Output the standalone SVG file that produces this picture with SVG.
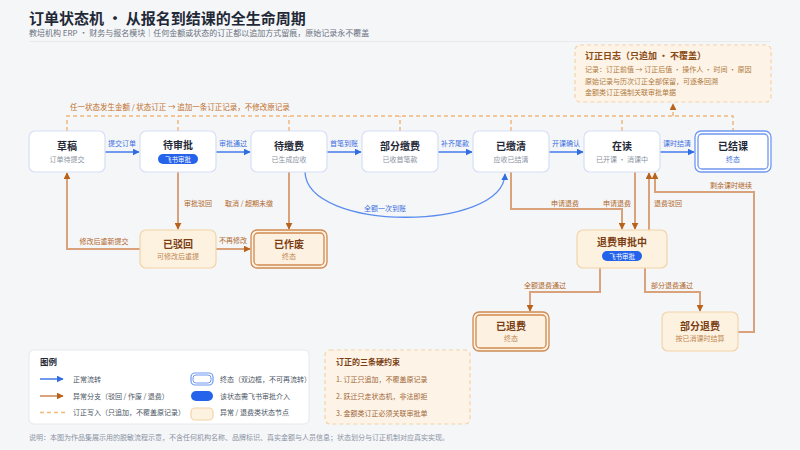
<svg xmlns="http://www.w3.org/2000/svg" width="800" height="450" viewBox="0 0 800 450">
<defs>
<style>
text{font-family:"Noto Sans CJK SC","Noto Sans",sans-serif}
.node{fill:#ffffff;stroke:#d5e0f6;stroke-width:1.2}
.warn{fill:#fdf1e0;stroke:#f2d4a8;stroke-width:1.2}
.endb{fill:none;stroke:#6f98f0;stroke-width:1.3}
.endo{fill:none;stroke:#d08a52;stroke-width:1.3}
.t{font-size:10px;font-weight:700;fill:#1f2937;text-anchor:middle}
.tw{font-size:10px;font-weight:700;fill:#7a3e12;text-anchor:middle}
.s{font-size:7px;fill:#8a93a3;text-anchor:middle}
.sw{font-size:7px;fill:#c08850;text-anchor:middle}
.sb{font-size:7px;fill:#3a6fe0;text-anchor:middle}
.badge{fill:#2563eb}
.bt{font-size:6.5px;fill:#ffffff;text-anchor:middle}
.blue{fill:none;stroke:#6f9af0;stroke-width:2}
.brown{fill:none;stroke:#d9a27a;stroke-width:2}
.dash{fill:none;stroke:#f0b87a;stroke-width:1.5;stroke-dasharray:4 3}
.lb{font-size:7px;fill:#3a6fe0}
.lo{font-size:7px;fill:#b0672a}
.leg{font-size:7px;fill:#4b5563}
</style>
<marker id="ab" viewBox="0 0 10 10" refX="9" refY="5" markerWidth="7" markerHeight="7" markerUnits="userSpaceOnUse" orient="auto"><path d="M0,0 L10,5 L0,10 z" fill="#2f6de0"/></marker>
<marker id="ao" viewBox="0 0 10 10" refX="9" refY="5" markerWidth="7" markerHeight="7" markerUnits="userSpaceOnUse" orient="auto"><path d="M0,0 L10,5 L0,10 z" fill="#b8621b"/></marker>
</defs>
<rect width="800" height="450" fill="#f5f6f8"/>
<g id="header">
<text x="29" y="24" font-size="15" font-weight="700" fill="#1f2937">订单状态机 · 从报名到结课的全生命周期</text>
<text x="29" y="36" font-size="8" fill="#6b7280">教培机构 ERP · 财务与报名模块｜任何金额或状态的订正都以追加方式留痕，原始记录永不覆盖</text>
<line x1="29" y1="41.5" x2="771" y2="41.5" stroke="#e8eaee" stroke-width="1"/>
</g>
<g id="log">
<rect x="575" y="45" width="196" height="57" rx="5" fill="#fdf3e6" stroke="#f3d3a8" stroke-width="1.2" stroke-dasharray="4 3"/>
<text x="585" y="59" font-size="9" font-weight="700" fill="#8a4a14">订正日志（只追加 · 不覆盖）</text>
<text x="585" y="72" font-size="7" fill="#b07a40">记录：订正前值 → 订正后值 · 操作人 · 时间 · 原因</text>
<text x="585" y="83.5" font-size="7" fill="#b07a40">原始记录与历次订正全部保留，可逐条回溯</text>
<text x="585" y="95" font-size="7" fill="#b07a40">金额类订正强制关联审批单据</text>
</g>
<g id="connectors">
<path class="dash" d="M67,131 V116 H733 V131"/>
<path class="dash" d="M178,131 V116 M289,131 V116 M400,131 V116 M511,131 V116 M622,131 V116"/>
<path class="dash" d="M673,116 V104" stroke-dasharray="3 2" marker-end="url(#ao)"/>
<text x="70" y="110" font-size="7.5" fill="#c0702a">任一状态发生金额 / 状态订正 → 追加一条订正记录，不修改原记录</text>
<path class="blue" d="M105,152 H139" marker-end="url(#ab)"/>
<path class="blue" d="M216,152 H250" marker-end="url(#ab)"/>
<path class="blue" d="M327,152 H361" marker-end="url(#ab)"/>
<path class="blue" d="M438,152 H472" marker-end="url(#ab)"/>
<path class="blue" d="M549,152 H583" marker-end="url(#ab)"/>
<path class="blue" d="M660,152 H694" marker-end="url(#ab)"/>
<text class="lb" x="122" y="146" text-anchor="middle">提交订单</text>
<text class="lb" x="233" y="146" text-anchor="middle">审批通过</text>
<text class="lb" x="344" y="146" text-anchor="middle">首笔到账</text>
<text class="lb" x="455" y="146" text-anchor="middle">补齐尾款</text>
<text class="lb" x="566" y="146" text-anchor="middle">开课确认</text>
<text class="lb" x="677" y="146" text-anchor="middle">课时结清</text>
<path d="M305,172 C307,232 503,232 505,174" fill="none" stroke="#5b8def" stroke-width="1.3" marker-end="url(#ab)"/>
<text class="lb" x="385" y="211" text-anchor="middle">全额一次到账</text>
<path class="brown" d="M178,172 V229" marker-end="url(#ao)"/>
<text class="lo" x="184" y="206">审批驳回</text>
<path class="brown" d="M289,172 V229" marker-end="url(#ao)"/>
<text class="lo" x="273" y="206" text-anchor="end">取消 / 超期未缴</text>
<path class="brown" d="M216,249 H250" marker-end="url(#ao)"/>
<text class="lo" x="233" y="243" text-anchor="middle">不再修改</text>
<path class="brown" d="M140,249 H67 V173" marker-end="url(#ao)"/>
<text class="lo" x="104" y="244" text-anchor="middle">修改后重新提交</text>
<path class="brown" d="M511,172 V209 H622 V229" marker-end="url(#ao)"/>
<text class="lo" x="565" y="206" text-anchor="middle">申请退费</text>
<path class="brown" d="M635,172 V229" marker-end="url(#ao)"/>
<text class="lo" x="617" y="206" text-anchor="middle">申请退费</text>
<path class="brown" d="M649,230 V173" marker-end="url(#ao)"/>
<text class="lo" x="654" y="206">退费驳回</text>
<path class="brown" d="M738,332 H754 V192 H655 V173" marker-end="url(#ao)"/>
<text class="lo" x="731" y="188" text-anchor="middle">剩余课时继续</text>
<path class="brown" d="M600,268 V292 H530 V311" marker-end="url(#ao)"/>
<text class="lo" x="545" y="288" text-anchor="middle">全额退费通过</text>
<path class="brown" d="M645,268 V292 H700 V311" marker-end="url(#ao)"/>
<text class="lo" x="672" y="288" text-anchor="middle">部分退费通过</text>
</g>
<g id="n-draft">
<rect class="node" x="29" y="131" width="76" height="41" rx="6"/>
<text class="t" x="67" y="150">草稿</text>
<text class="s" x="67" y="161.5">订单待提交</text>
</g>
<g id="n-approve">
<rect class="node" x="140" y="131" width="76" height="41" rx="6"/>
<text class="t" x="178" y="148.5">待审批</text>
<rect class="badge" x="158" y="154" width="40" height="10" rx="5"/>
<text class="bt" x="178" y="161.5">飞书审批</text>
</g>
<g id="n-unpaid">
<rect class="node" x="251" y="131" width="76" height="41" rx="6"/>
<text class="t" x="289" y="150">待缴费</text>
<text class="s" x="289" y="161.5">已生成应收</text>
</g>
<g id="n-partial">
<rect class="node" x="362" y="131" width="76" height="41" rx="6"/>
<text class="t" x="400" y="150">部分缴费</text>
<text class="s" x="400" y="161.5">已收首笔款</text>
</g>
<g id="n-paid">
<rect class="node" x="473" y="131" width="76" height="41" rx="6"/>
<text class="t" x="511" y="150">已缴清</text>
<text class="s" x="511" y="161.5">应收已结清</text>
</g>
<g id="n-study">
<rect class="node" x="584" y="131" width="76" height="41" rx="6"/>
<text class="t" x="622" y="150">在读</text>
<text class="s" x="622" y="161.5">已开课 · 消课中</text>
</g>
<g id="n-done">
<rect x="695" y="131" width="76" height="41" rx="6" fill="#ffffff" stroke="#6f98f0" stroke-width="1.3"/>
<rect class="endb" x="698" y="134" width="70" height="35" rx="4"/>
<text class="t" x="733" y="150">已结课</text>
<text class="sb" x="733" y="161.5">终态</text>
</g>
<g id="n-reject">
<rect class="warn" x="140" y="230" width="76" height="38" rx="6"/>
<text class="tw" x="178" y="247.5">已驳回</text>
<text class="sw" x="178" y="258.5">可修改后重提</text>
</g>
<g id="n-void">
<rect x="251" y="230" width="76" height="38" rx="6" fill="#fdf1e2" stroke="#d08a52" stroke-width="1.3"/>
<rect class="endo" x="254" y="233" width="70" height="32" rx="4"/>
<text class="tw" x="289" y="247.5">已作废</text>
<text class="sw" x="289" y="258.5">终态</text>
</g>
<g id="n-refundreview">
<rect class="warn" x="577" y="230" width="90" height="38" rx="6"/>
<text class="tw" x="622" y="246">退费审批中</text>
<rect class="badge" x="602" y="251" width="40" height="10" rx="5"/>
<text class="bt" x="622" y="258.5">飞书审批</text>
</g>
<g id="n-refunded">
<rect x="473" y="312" width="76" height="39" rx="6" fill="#fdf1e2" stroke="#d08a52" stroke-width="1.3"/>
<rect class="endo" x="476" y="315" width="70" height="33" rx="4"/>
<text class="tw" x="511" y="329.5">已退费</text>
<text class="sw" x="511" y="340.5">终态</text>
</g>
<g id="n-partrefund">
<rect class="warn" x="662" y="312" width="76" height="39" rx="6"/>
<text class="tw" x="700" y="329.5">部分退费</text>
<text class="sw" x="700" y="340.5">按已消课时结算</text>
</g>
<g id="legend">
<rect x="29" y="350" width="280" height="74" rx="5" fill="#ffffff" stroke="#e6e9ee" stroke-width="1"/>
<text x="40" y="365" font-size="8.5" font-weight="700" fill="#1f2937">图例</text>
<path class="blue" d="M40,379 H63" marker-end="url(#ab)"/>
<text class="leg" x="73" y="381.5">正常流转</text>
<path class="brown" d="M40,396 H63" marker-end="url(#ao)"/>
<text class="leg" x="73" y="398.5">异常分支（驳回 / 作废 / 退费）</text>
<path class="dash" d="M40,412.5 H67"/>
<text class="leg" x="73" y="415">订正写入（只追加，不覆盖原记录）</text>
<rect x="191" y="373" width="22" height="12" rx="4" fill="#ffffff" stroke="#6f98f0" stroke-width="1.2"/>
<rect x="193" y="375" width="18" height="8" rx="3" fill="none" stroke="#6f98f0" stroke-width="1"/>
<text class="leg" x="220" y="381.5">终态（双边框，不可再流转）</text>
<rect class="badge" x="191" y="391" width="22" height="10" rx="5"/>
<text class="leg" x="220" y="398.5">该状态需飞书审批介入</text>
<rect class="warn" x="191" y="408" width="22" height="12" rx="4"/>
<text class="leg" x="220" y="415">异常 / 退费类状态节点</text>
</g>
<g id="constraints">
<rect x="325" y="350" width="145" height="74" rx="5" fill="#fdf3e6" stroke="#f3d3a8" stroke-width="1.2" stroke-dasharray="4 3"/>
<text x="336" y="365" font-size="8" font-weight="700" fill="#7a3e12">订正的三条硬约束</text>
<text x="336" y="381.5" font-size="7" fill="#a0673a">1. 订正只追加，不覆盖原记录</text>
<text x="336" y="398.5" font-size="7" fill="#a0673a">2. 跃迁只走状态机，非法即拒</text>
<text x="336" y="415.5" font-size="7" fill="#a0673a">3. 金额类订正必须关联审批单</text>
</g>
<text x="29" y="440" font-size="7" fill="#8a93a3">说明：本图为作品集展示用的脱敏流程示意，不含任何机构名称、品牌标识、真实金额与人员信息；状态划分与订正机制对应真实实现。</text>
</svg>
